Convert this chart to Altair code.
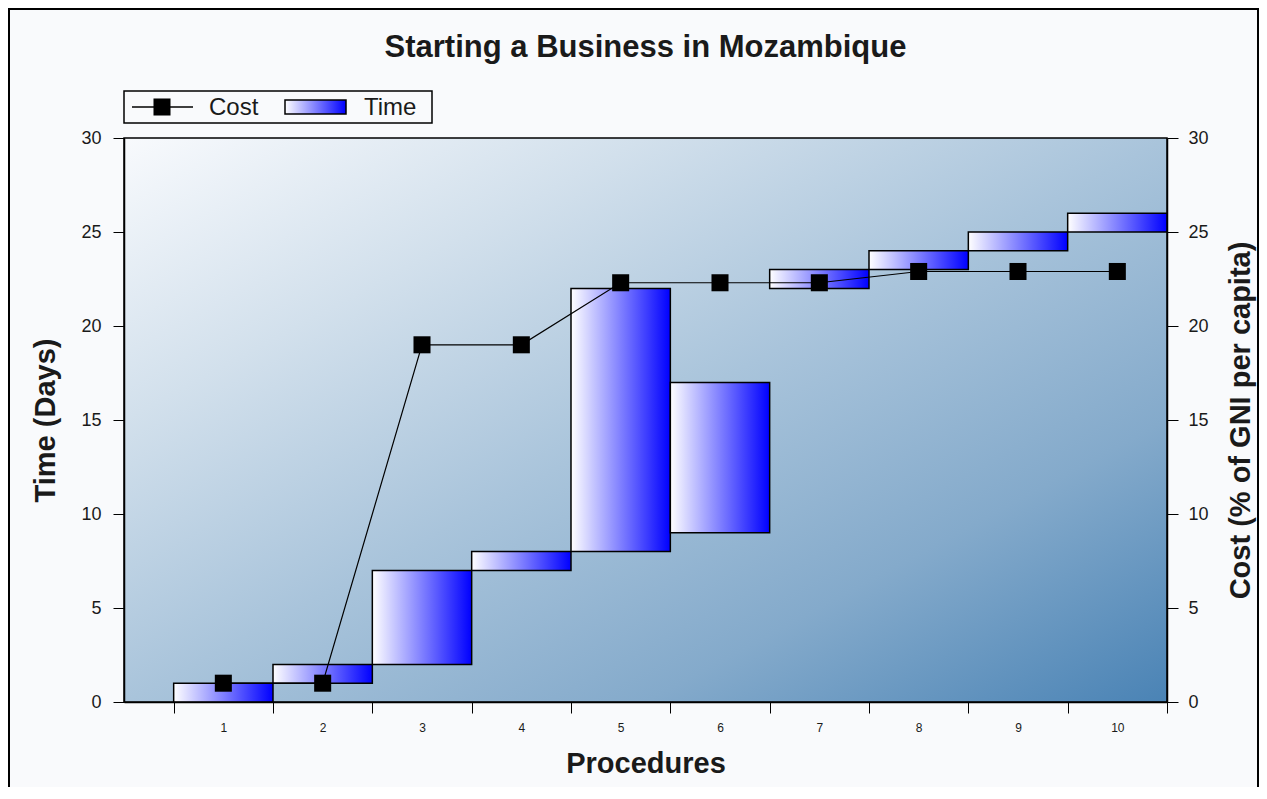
import altair as alt
import pandas as pd

# ---- data ----
procedures = [1, 2, 3, 4, 5, 6, 7, 8, 9, 10]
start_days = [0, 1, 2, 7, 8, 9, 22, 23, 24, 25]
end_days = [1, 2, 7, 8, 22, 17, 23, 24, 25, 26]
cost_pct = [1.0, 1.0, 19.0, 19.0, 22.3, 22.3, 22.3, 22.9, 22.9, 22.9]
y_ticks = [0, 5, 10, 15, 20, 25, 30]
x_ticks = [0, 1, 2, 3, 4, 5, 6, 7, 8, 9, 10]

W, H = 1043, 564
FONT = "Liberation Sans"
TXT = "#1a1a1a"
AX_TITLE = 29

df = pd.DataFrame({
    "proc": procedures,
    "x0": [p - 1 for p in procedures],
    "x1": procedures,
    "xm": [p - 0.5 for p in procedures],
    "start": start_days,
    "end": end_days,
    "cost": cost_pct,
})
one = pd.DataFrame({"k": [0]})

x_scale = alt.Scale(domain=[-0.5, 10], nice=False, zero=False)
x_axis = alt.Axis(
    values=x_ticks, tickSize=11, labelExpr="datum.value < 10 ? toString(datum.value + 1) : ''",
    labelOffset=49.7, labelFlush=False, labelOverlap=False, labelFontSize=12,
    labelPadding=9, title="Procedures", titleFontSize=AX_TITLE, titleFontWeight="bold",
    titlePadding=16, grid=False, domainColor="black", tickColor="black", domainWidth=1.5,
    zindex=2,
)

gradient_bg = alt.Gradient(
    gradient="linear", x1=0, y1=0, x2=1, y2=1,
    stops=[
        alt.GradientStop(offset=0, color="#f8fafd"),
        alt.GradientStop(offset=0.25, color="#d2e0ec"),
        alt.GradientStop(offset=0.5, color="#a9c4db"),
        alt.GradientStop(offset=0.75, color="#84aacb"),
        alt.GradientStop(offset=1, color="#4a83b5"),
    ],
)
gradient_bar = alt.Gradient(
    gradient="linear", x1=0, y1=0, x2=1, y2=0,
    stops=[
        alt.GradientStop(offset=0, color="#ffffff"),
        alt.GradientStop(offset=1, color="#0000ff"),
    ],
)

# outer frame and plot background
outer = alt.Chart(one).mark_rect(fillOpacity=0, stroke="black", strokeWidth=2).encode(
    x=alt.value(-115), x2=alt.value(W + 91), y=alt.value(-129), y2=alt.value(H + 120)
)
bg = alt.Chart(one).mark_rect(color=gradient_bg, stroke="black", strokeWidth=1.5).encode(
    x=alt.value(0), x2=alt.value(W), y=alt.value(0), y2=alt.value(H)
)

bars = alt.Chart(df).mark_bar(color=gradient_bar, stroke="black", strokeWidth=1.5).encode(
    x=alt.X("x0:Q", scale=x_scale, axis=x_axis),
    x2="x1:Q",
    y=alt.Y("start:Q", scale=alt.Scale(domain=[0, 30], nice=False),
            axis=alt.Axis(values=y_ticks, tickSize=11, labelPadding=12, labelFontSize=18,
                          title="Time (Days)", titleFontSize=AX_TITLE, titleFontWeight="bold",
                          titlePadding=20, grid=False, domainColor="black", tickColor="black",
                          domainWidth=1.5, zindex=2)),
    y2="end:Q",
)

cost_axis = alt.Axis(values=y_ticks, orient="right", tickSize=11, labelPadding=10, labelFontSize=18,
                     title="Cost (% of GNI per capita)", titleFontSize=AX_TITLE, titleFontWeight="bold",
                     titleAngle=270, titleBaseline="top", titlePadding=18, grid=False,
                     domainColor="black", tickColor="black", domainWidth=1.5, zindex=2)
cost_y = alt.Y("cost:Q", scale=alt.Scale(domain=[0, 30], nice=False), axis=cost_axis)
cost_line = alt.Chart(df).mark_line(color="black", strokeWidth=1.2).encode(
    x=alt.X("xm:Q", scale=x_scale), y=cost_y
)
cost_pts = alt.Chart(df).mark_point(shape="square", filled=True, color="black", size=290, opacity=1).encode(
    x=alt.X("xm:Q", scale=x_scale), y=cost_y
)
right = alt.layer(cost_line, cost_pts)

# title (as text)
title = alt.Chart(one).mark_text(text="Starting a Business in Mozambique", font=FONT, fontSize=31,
                                 fontWeight="bold", color=TXT, align="center", baseline="middle").encode(
    x=alt.value(W / 2), y=alt.value(-90)
)

# legend
leg_box = alt.Chart(one).mark_rect(fill="#f9fafc", stroke="black", strokeWidth=1.5).encode(
    x=alt.value(0), x2=alt.value(308), y=alt.value(-47), y2=alt.value(-15)
)
leg_line = alt.Chart(one).mark_rule(color="black", strokeWidth=1.5).encode(
    x=alt.value(8), x2=alt.value(69), y=alt.value(-31)
)
leg_sq = alt.Chart(one).mark_point(shape="square", filled=True, color="black", size=290, opacity=1).encode(
    x=alt.value(38), y=alt.value(-31)
)
leg_cost = alt.Chart(one).mark_text(text="Cost", font=FONT, fontSize=24, color=TXT, align="left",
                                    baseline="middle").encode(x=alt.value(85), y=alt.value(-30))
leg_grad = alt.Chart(one).mark_rect(color=gradient_bar, stroke="black", strokeWidth=1.5).encode(
    x=alt.value(161), x2=alt.value(222), y=alt.value(-38), y2=alt.value(-24)
)
leg_time = alt.Chart(one).mark_text(text="Time", font=FONT, fontSize=24, color=TXT, align="left",
                                    baseline="middle").encode(x=alt.value(240), y=alt.value(-30))

chart = alt.layer(
    outer, bg, bars, right, title, leg_box, leg_line, leg_sq, leg_cost, leg_grad, leg_time
).resolve_scale(y="independent").properties(
    width=W, height=H,
    autosize=alt.AutoSizeParams(type="none"),
    padding={"left": 116, "top": 130, "right": 92, "bottom": 85},
    background="#f9fafc",
).configure_view(stroke=None).configure_axis(
    labelFont=FONT, titleFont=FONT, labelColor=TXT, titleColor=TXT
)

chart.save("out.html", embed_options={"renderer": "svg", "actions": False})
